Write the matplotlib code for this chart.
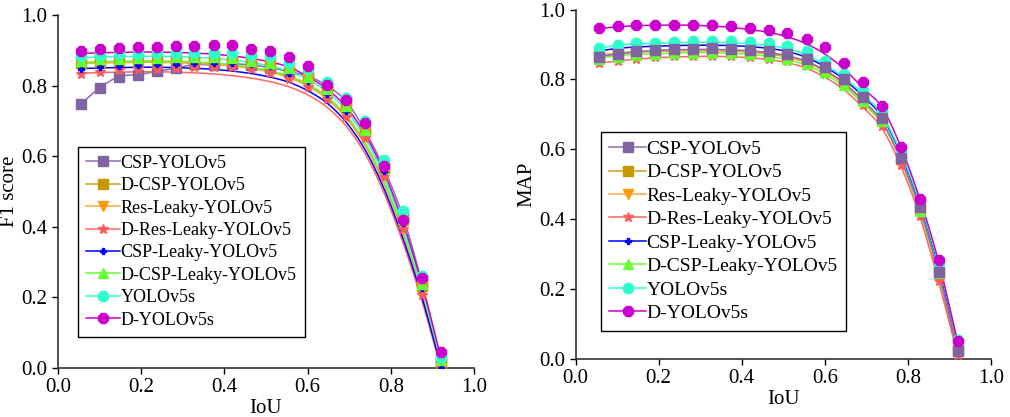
import numpy as np
import matplotlib
matplotlib.use("Agg")
import matplotlib.pyplot as plt

plt.rcParams['font.family'] = ['Liberation Serif', 'DejaVu Serif']

iou = [0.055, 0.101, 0.146, 0.192, 0.237, 0.283, 0.328, 0.374, 0.419, 0.465,
       0.510, 0.556, 0.601, 0.647, 0.692, 0.738, 0.783, 0.829, 0.874, 0.920]

names = ["CSP-YOLOv5", "D-CSP-YOLOv5", "Res-Leaky-YOLOv5", "D-Res-Leaky-YOLOv5",
         "CSP-Leaky-YOLOv5", "D-CSP-Leaky-YOLOv5", "YOLOv5s", "D-YOLOv5s"]

# F1 score, measured points
f1_csp = [0.748, 0.794, 0.825, 0.831, 0.840, 0.849, 0.860, 0.858, 0.862, 0.858, 0.851, 0.839, 0.827, 0.799, 0.756, 0.672, 0.566, 0.429, 0.244, 0.022]
f1_dcsp = [0.865, 0.868, 0.870, 0.872, 0.873, 0.874, 0.875, 0.874, 0.872, 0.868, 0.860, 0.846, 0.822, 0.787, 0.737, 0.670, 0.567, 0.418, 0.232, 0.015]
f1_res = [0.862, 0.866, 0.869, 0.871, 0.873, 0.874, 0.875, 0.874, 0.872, 0.868, 0.860, 0.845, 0.820, 0.785, 0.735, 0.668, 0.565, 0.415, 0.228, 0.010]
f1_dres = [0.834, 0.838, 0.843, 0.846, 0.848, 0.851, 0.853, 0.853, 0.853, 0.846, 0.836, 0.819, 0.797, 0.761, 0.710, 0.652, 0.541, 0.394, 0.207, 0.003]
f1_cspl = [0.848, 0.852, 0.855, 0.858, 0.860, 0.862, 0.863, 0.864, 0.865, 0.862, 0.855, 0.836, 0.813, 0.775, 0.727, 0.668, 0.558, 0.410, 0.226, 0.000]
f1_dcspl = [0.869, 0.874, 0.876, 0.877, 0.879, 0.881, 0.881, 0.882, 0.877, 0.869, 0.865, 0.851, 0.824, 0.789, 0.741, 0.675, 0.578, 0.421, 0.238, 0.022]
f1_yolo = [0.884, 0.886, 0.889, 0.890, 0.891, 0.892, 0.893, 0.893, 0.893, 0.888, 0.884, 0.865, 0.846, 0.810, 0.765, 0.699, 0.590, 0.445, 0.260, 0.030]
f1_dyolo = [0.898, 0.903, 0.906, 0.909, 0.910, 0.912, 0.913, 0.915, 0.915, 0.905, 0.898, 0.881, 0.855, 0.803, 0.759, 0.694, 0.573, 0.418, 0.254, 0.045]

# F1 score, fitted curves (CSP-YOLOv5 just joins its points)
f1_fit_dcsp = [0.864, 0.866, 0.867, 0.868, 0.868, 0.867, 0.865, 0.862, 0.857, 0.850, 0.840, 0.824, 0.801, 0.765, 0.713, 0.634, 0.527, 0.386, 0.221, 0.018]
f1_fit_res = [0.862, 0.864, 0.865, 0.866, 0.866, 0.865, 0.863, 0.860, 0.855, 0.848, 0.838, 0.822, 0.798, 0.762, 0.709, 0.630, 0.522, 0.381, 0.217, 0.015]
f1_fit_dres = [0.835, 0.837, 0.838, 0.839, 0.839, 0.838, 0.836, 0.833, 0.828, 0.821, 0.811, 0.796, 0.773, 0.738, 0.686, 0.607, 0.497, 0.355, 0.192, 0.000]
f1_fit_cspl = [0.848, 0.850, 0.851, 0.852, 0.852, 0.851, 0.849, 0.846, 0.841, 0.834, 0.824, 0.809, 0.785, 0.750, 0.697, 0.618, 0.509, 0.367, 0.203, 0.005]
f1_fit_dcspl = [0.866, 0.868, 0.869, 0.870, 0.870, 0.869, 0.867, 0.864, 0.859, 0.852, 0.842, 0.827, 0.804, 0.768, 0.717, 0.638, 0.531, 0.390, 0.224, 0.020]
f1_fit_yolo = [0.879, 0.881, 0.882, 0.883, 0.883, 0.882, 0.880, 0.877, 0.872, 0.865, 0.855, 0.840, 0.817, 0.782, 0.731, 0.652, 0.545, 0.402, 0.233, 0.025]
f1_fit_dyolo = [0.891, 0.893, 0.894, 0.895, 0.895, 0.894, 0.892, 0.889, 0.884, 0.877, 0.867, 0.852, 0.825, 0.790, 0.740, 0.662, 0.556, 0.412, 0.240, 0.030]

# MAP, measured points
map_csp = [0.864, 0.873, 0.881, 0.885, 0.887, 0.888, 0.889, 0.887, 0.885, 0.881, 0.873, 0.859, 0.837, 0.802, 0.750, 0.689, 0.575, 0.434, 0.248, 0.024]
map_dcsp = [0.868, 0.873, 0.877, 0.880, 0.882, 0.883, 0.883, 0.882, 0.879, 0.875, 0.867, 0.852, 0.828, 0.793, 0.743, 0.683, 0.572, 0.428, 0.245, 0.025]
map_res = [0.870, 0.875, 0.880, 0.882, 0.884, 0.885, 0.885, 0.884, 0.882, 0.878, 0.870, 0.855, 0.830, 0.795, 0.745, 0.685, 0.570, 0.420, 0.235, 0.020]
map_dres = [0.847, 0.852, 0.859, 0.863, 0.866, 0.868, 0.868, 0.867, 0.864, 0.860, 0.852, 0.838, 0.815, 0.780, 0.728, 0.668, 0.555, 0.408, 0.222, 0.012]
map_cspl = [0.882, 0.890, 0.894, 0.897, 0.899, 0.900, 0.901, 0.900, 0.898, 0.895, 0.888, 0.873, 0.847, 0.812, 0.762, 0.702, 0.592, 0.447, 0.266, 0.030]
map_dcspl = [0.860, 0.865, 0.870, 0.873, 0.875, 0.877, 0.877, 0.876, 0.873, 0.868, 0.860, 0.845, 0.820, 0.785, 0.738, 0.680, 0.575, 0.425, 0.245, 0.030]
map_yolo = [0.890, 0.900, 0.903, 0.905, 0.906, 0.909, 0.911, 0.911, 0.908, 0.905, 0.897, 0.881, 0.852, 0.817, 0.769, 0.709, 0.599, 0.451, 0.274, 0.054]
map_dyolo = [0.946, 0.952, 0.955, 0.956, 0.957, 0.957, 0.955, 0.952, 0.948, 0.941, 0.933, 0.916, 0.892, 0.847, 0.792, 0.725, 0.608, 0.458, 0.282, 0.052]

# MAP, fitted curves
map_fit_csp = [0.866, 0.873, 0.879, 0.883, 0.885, 0.886, 0.886, 0.885, 0.882, 0.877, 0.868, 0.852, 0.826, 0.790, 0.740, 0.680, 0.572, 0.432, 0.248, 0.024]
map_fit_dcsp = [0.868, 0.874, 0.878, 0.880, 0.882, 0.882, 0.882, 0.881, 0.878, 0.873, 0.864, 0.848, 0.823, 0.786, 0.736, 0.676, 0.569, 0.426, 0.245, 0.025]
map_fit_res = [0.870, 0.876, 0.880, 0.882, 0.884, 0.884, 0.884, 0.883, 0.880, 0.875, 0.866, 0.850, 0.824, 0.788, 0.738, 0.678, 0.568, 0.420, 0.235, 0.020]
map_fit_dres = [0.847, 0.853, 0.858, 0.862, 0.864, 0.866, 0.866, 0.865, 0.862, 0.857, 0.848, 0.832, 0.806, 0.770, 0.720, 0.660, 0.553, 0.408, 0.222, 0.012]
map_fit_cspl = [0.882, 0.889, 0.893, 0.895, 0.897, 0.898, 0.898, 0.897, 0.894, 0.889, 0.880, 0.863, 0.836, 0.800, 0.752, 0.693, 0.587, 0.443, 0.265, 0.030]
map_fit_dcspl = [0.862, 0.868, 0.872, 0.874, 0.876, 0.877, 0.877, 0.875, 0.872, 0.866, 0.857, 0.841, 0.815, 0.779, 0.731, 0.673, 0.572, 0.425, 0.245, 0.030]
map_fit_yolo = [0.890, 0.898, 0.902, 0.904, 0.905, 0.906, 0.906, 0.905, 0.902, 0.897, 0.888, 0.870, 0.842, 0.805, 0.758, 0.698, 0.592, 0.448, 0.272, 0.050]
map_fit_dyolo = [0.946, 0.951, 0.954, 0.955, 0.956, 0.955, 0.953, 0.949, 0.943, 0.935, 0.922, 0.902, 0.872, 0.830, 0.775, 0.720, 0.608, 0.458, 0.280, 0.050]

f1_pts = [f1_csp, f1_dcsp, f1_res, f1_dres, f1_cspl, f1_dcspl, f1_yolo, f1_dyolo]
f1_fit = [f1_csp, f1_fit_dcsp, f1_fit_res, f1_fit_dres, f1_fit_cspl, f1_fit_dcspl, f1_fit_yolo, f1_fit_dyolo]
map_pts = [map_csp, map_dcsp, map_res, map_dres, map_cspl, map_dcspl, map_yolo, map_dyolo]
map_fit = [map_fit_csp, map_fit_dcsp, map_fit_res, map_fit_dres, map_fit_cspl, map_fit_dcspl, map_fit_yolo, map_fit_dyolo]

mcolors = ['#8064A2', '#C89800', '#FF9900', '#FF5A5A', '#0000FF', '#66FF33', '#2EFFCC', '#CC00CC']
lcolors = ['#8C6CB4', '#D4A017', '#FFA640', '#FF6666', '#0000FF', '#66FF33', '#2EFFCC', '#CC00CC']
markers = ['s', 's', 'v', '*', 'P', '^', 'o', '8']
msizes = [7.5, 7.5, 7.5, 7.5, 5.0, 7.5, 7.5, 8.5]


def smooth(x, y, n=20):
    # cubic hermite through the given values
    x = np.asarray(x, float)
    y = np.asarray(y, float)
    m = np.gradient(y, x)
    xs, ys = [], []
    t = np.linspace(0, 1, n, endpoint=False)
    for i in range(len(x) - 1):
        h = x[i + 1] - x[i]
        h00 = 2 * t**3 - 3 * t**2 + 1
        h10 = t**3 - 2 * t**2 + t
        h01 = -2 * t**3 + 3 * t**2
        h11 = t**3 - t**2
        xs.append(x[i] + t * h)
        ys.append(h00 * y[i] + h10 * h * m[i] + h01 * y[i + 1] + h11 * h * m[i + 1])
    xs.append([x[-1]])
    ys.append([y[-1]])
    return np.concatenate(xs), np.concatenate(ys)


fig = plt.figure(figsize=(10.1, 4.17), dpi=100)
ax1 = fig.add_axes([0.0574, 0.118, 0.412, 0.846])
ax2 = fig.add_axes([0.570, 0.139, 0.411, 0.838])

panels = [(ax1, f1_pts, f1_fit, "F1 score", [0, 1, 2, 3, 4, 5, 6, 7], (0.048, 0.627), 13),
          (ax2, map_pts, map_fit, "MAP", [1, 2, 3, 4, 5, 6, 0, 7], (0.060, 0.651), 14)]

for ax, pts, fits, ylab, order, anchor, lfs in panels:
    handles = {}
    for z, i in enumerate(order):
        xs, ys = smooth(iou, fits[i])
        ax.plot(xs, ys, color=lcolors[i], lw=1.1, zorder=2 + z)
        ax.plot(iou, pts[i], ls='none', marker=markers[i], ms=msizes[i],
                color=mcolors[i], mec=mcolors[i], zorder=10 + z)
        handles[i] = plt.Line2D([], [], color=lcolors[i], lw=1.1, marker=markers[i],
                                ms=msizes[i], mfc=mcolors[i], mec=mcolors[i])
    ax.legend([handles[i] for i in range(8)], names, loc='upper left',
              bbox_to_anchor=anchor, borderaxespad=0, fontsize=lfs,
              frameon=True, fancybox=False, edgecolor='black', framealpha=1,
              handlelength=1.9, handletextpad=0.0, labelspacing=0.3,
              borderpad=0.45, numpoints=1)
    ax.get_legend().get_frame().set_linewidth(1.0)
    ax.set_xlim(0, 1)
    ax.set_ylim(0, 1)
    ax.set_xticks([0, 0.2, 0.4, 0.6, 0.8, 1.0])
    ax.set_yticks([0, 0.2, 0.4, 0.6, 0.8, 1.0])
    ax.xaxis.set_major_formatter(matplotlib.ticker.FormatStrFormatter('%.1f'))
    ax.yaxis.set_major_formatter(matplotlib.ticker.FormatStrFormatter('%.1f'))
    ax.spines['top'].set_visible(False)
    ax.spines['right'].set_visible(False)
    for s in ['left', 'bottom']:
        ax.spines[s].set_color('#333333')
        ax.spines[s].set_linewidth(1.2)
    ax.tick_params(direction='out', length=4, width=1, labelsize=15, colors='black')
    ax.set_xlabel("IoU", fontsize=15, labelpad=1)
    ax.set_ylabel(ylab, fontsize=15, labelpad=2)

fig.savefig("out.png", dpi=100)
